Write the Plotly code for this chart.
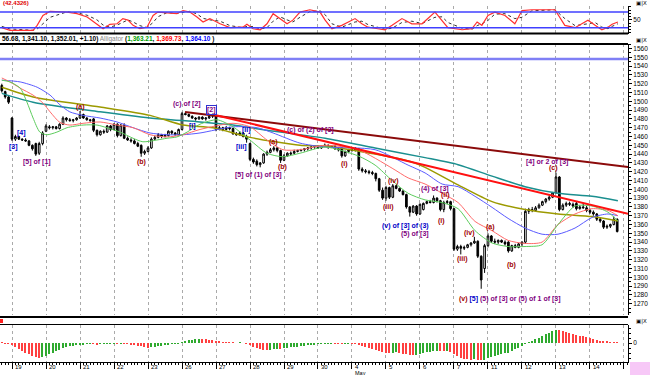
import plotly.graph_objects as go

W, H = 650, 375
PLOT_R = 628

def px(x):
    return x / W

def py(y):
    return 1 - y / H

# ---------------- data ----------------
day_labels = ["19", "20", "21", "22", "23", "26", "27", "28", "29", "30",
              "4", "5", "6", "7", "11", "12", "13", "14"]

opens = [1518,1511,1505,1481,1457,1460,1457,1456,1455,1450,
         1452,1441,1452,1466,1471,1470,1471,1469,1474,1481,
         1479,1478,1479,1481,1485,1481,1479,1480,1467,1462,
         1466,1465,1472,1468,1474,1461,1473,1458,1456,1455,
         1452,1450,1441,1443,1447,1457,1459,1462,1460,1461,
         1466,1464,1462,1468,1486,1485,1483,1481,1480,1482,
         1480,1481,1483,1484,1468,1470,1468,1470,1469,1463,
         1462,1464,1460,1452,1434,1432,1428,1430,1440,1442,
         1445,1447,1444,1433,1438,1440,1441,1443,1444,1445,
         1446,1447,1448,1449,1447,1449,1450,1448,1449,1446,
         1447,1438,1443,1445,1444,1446,1423,1421,1420,1419,
         1418,1412,1399,1390,1402,1391,1404,1401,1398,1394,
         1380,1374,1381,1372,1377,1384,1386,1385,1390,1387,
         1377,1385,1386,1378,1332,1335,1333,1334,1337,1339,
         1341,1324,1310,1336,1347,1341,1340,1342,1340,1340,
         1330,1336,1334,1338,1340,1375,1377,1376,1379,1382,
         1386,1389,1391,1396,1414,1377,1382,1384,1383,1384,
         1378,1380,1379,1376,1374,1372,1366,1364,1357,1358,
         1360,1366]
highs = [1520,1512,1506,1482,1462,1461,1458,1458,1456,1451,
         1453,1454,1466,1474,1473,1472,1472,1475,1483,1482,
         1481,1480,1482,1489,1486,1482,1480,1481,1468,1467,
         1468,1473,1473,1475,1475,1474,1475,1460,1458,1457,
         1454,1451,1445,1449,1459,1461,1464,1463,1463,1467,
         1467,1465,1469,1488,1488,1486,1484,1482,1483,1483,
         1482,1484,1486,1485,1472,1471,1472,1471,1470,1465,
         1466,1465,1462,1453,1436,1434,1431,1441,1444,1447,
         1449,1448,1445,1440,1442,1443,1445,1445,1446,1447,
         1448,1449,1450,1450,1450,1452,1451,1450,1450,1447,
         1448,1444,1446,1447,1448,1447,1425,1423,1422,1421,
         1419,1413,1402,1404,1403,1406,1405,1402,1399,1395,
         1381,1382,1382,1384,1385,1387,1388,1393,1391,1388,
         1387,1388,1387,1379,1337,1337,1336,1338,1340,1346,
         1342,1325,1338,1350,1348,1344,1343,1343,1342,1341,
         1337,1338,1339,1341,1378,1379,1380,1381,1384,1387,
         1390,1393,1397,1419,1415,1384,1386,1386,1385,1386,
         1382,1384,1381,1378,1376,1373,1368,1365,1360,1361,
         1369,1367]
lows = [1510,1503,1497,1455,1455,1456,1455,1454,1449,1444,
        1438,1439,1450,1465,1468,1468,1468,1468,1473,1477,
        1477,1476,1478,1480,1480,1478,1477,1465,1460,1461,
        1463,1464,1466,1467,1459,1460,1457,1455,1453,1451,
        1448,1437,1439,1442,1446,1456,1458,1458,1459,1460,
        1462,1461,1461,1467,1484,1482,1480,1478,1479,1479,
        1478,1480,1481,1466,1467,1466,1467,1467,1462,1461,
        1461,1459,1453,1432,1429,1426,1425,1429,1438,1441,
        1443,1442,1430,1432,1437,1439,1440,1442,1443,1443,
        1444,1445,1446,1446,1446,1448,1446,1447,1445,1443,
        1436,1437,1441,1443,1443,1421,1419,1418,1417,1416,
        1409,1397,1388,1387,1389,1390,1400,1397,1393,1378,
        1369,1373,1370,1371,1376,1383,1384,1384,1385,1375,
        1374,1383,1376,1330,1330,1326,1331,1333,1335,1338,
        1322,1287,1305,1334,1339,1338,1338,1339,1336,1328,
        1329,1333,1333,1335,1338,1372,1374,1375,1378,1381,
        1384,1387,1390,1395,1375,1376,1380,1381,1379,1376,
        1377,1378,1374,1372,1370,1364,1362,1355,1355,1356,
        1359,1351]
closes = [1512,1505,1499,1457,1460,1457,1456,1455,1450,1446,
          1440,1452,1464,1472,1470,1471,1469,1474,1481,1479,
          1478,1479,1481,1485,1481,1479,1478,1467,1462,1466,
          1465,1472,1468,1474,1461,1473,1458,1456,1455,1452,
          1449,1441,1443,1447,1457,1459,1462,1460,1462,1466,
          1464,1462,1468,1486,1485,1483,1481,1480,1482,1480,
          1481,1483,1484,1468,1470,1468,1470,1469,1463,1462,
          1464,1460,1457,1434,1431,1428,1430,1440,1442,1445,
          1447,1444,1433,1438,1441,1441,1443,1444,1445,1446,
          1447,1448,1449,1447,1449,1450,1448,1449,1446,1445,
          1438,1443,1445,1444,1446,1423,1421,1420,1419,1418,
          1412,1399,1390,1402,1391,1404,1401,1398,1394,1380,
          1374,1381,1372,1383,1384,1386,1385,1390,1387,1377,
          1385,1386,1378,1332,1335,1333,1334,1337,1339,1341,
          1324,1297,1336,1347,1341,1340,1342,1340,1338,1330,
          1336,1334,1338,1340,1375,1377,1376,1379,1382,1386,
          1389,1391,1396,1414,1377,1382,1384,1383,1381,1378,
          1380,1379,1376,1374,1372,1366,1364,1357,1358,1360,
          1366,1352]

# moving averages (bar index, price)
olive_idx = [0, 9.2, 28.9, 43.6, 53.3, 62.1, 73, 87.7, 95.1, 109.8, 120.6, 124.5, 134.2, 144.2, 153.9, 163.6, 173.6, 181.2]
olive_val = [1516, 1505, 1493.5, 1484, 1473, 1470, 1459, 1450, 1449, 1440, 1431, 1425, 1405, 1386, 1377, 1372, 1369, 1364]
teal_idx = [0, 9.2, 28.9, 43.6, 58.3, 68, 78, 95.1, 109.8, 124.5, 134.2, 144.2, 153.9, 163.6, 173.6, 181.2]
teal_val = [1509, 1499, 1488, 1481, 1476.5, 1473, 1467, 1458, 1447, 1436, 1428, 1415, 1403, 1395.5, 1392, 1387]
jaw_idx = [0, 5.4, 10.4, 14.2, 17.1, 20, 23.9, 28.9, 33.9, 38.6, 43.6, 48.6, 53.3, 58.3, 68, 75.1, 79.8, 87.7, 95.1,
           109.8, 119.5, 124.5, 129.5, 134.2, 139.2, 144.2, 148.9, 153.9, 158.9, 163.6, 168.6, 173.6, 178.3, 181.2]
jaw_val = [1524, 1522, 1516, 1507, 1496, 1488, 1484, 1481, 1476.5, 1470, 1464, 1462, 1462, 1464, 1471, 1470, 1464, 1452.5, 1448,
           1445, 1427.5, 1418.6, 1406, 1403, 1392, 1379.5, 1367, 1356, 1349, 1349, 1356, 1368, 1372, 1370]
teeth_idx = [0, 2.4, 5.4, 9.2, 12.1, 14.2, 17.1, 20, 23.9, 28.9, 33.9, 38.6, 43.6, 48.6, 53.3, 58.3, 68, 73, 78, 82.7,
             87.7, 95.1, 104.8, 114.8, 119.5, 124.5, 129.5, 134.2, 139.2, 144.2, 148.9, 153.9, 158.9, 163.6, 168.6,
             173.6, 178.3, 181.2]
teeth_val = [1526.5, 1522, 1515, 1507, 1498, 1488, 1476, 1473, 1475, 1476.5, 1473, 1470, 1462, 1459.5, 1462, 1468, 1475,
             1471, 1456, 1445, 1445, 1450, 1445, 1424, 1413, 1406, 1395.5, 1385, 1363.5, 1353, 1342, 1338.5, 1340, 1360,
             1372, 1378, 1376, 1370]
lips_idx = [0, 2.4, 5.4, 7.4, 9.2, 11.2, 13.3, 16.2, 19.2, 23.9, 28, 30.9, 34.8, 38.6, 41.5, 45.6, 48.6, 51.5, 54.5,
            58.3, 63.3, 68, 73, 78, 82.7, 87.7, 95.1, 104.8, 109.8, 114.8, 119.5, 124.5, 129.5, 134.2, 139.2, 144.2,
            148.9, 153.9, 158.9, 163.6, 168.6, 173.6, 178.3, 181.2]
lips_val = [1524, 1522, 1515, 1499, 1481, 1465, 1462, 1465, 1470, 1473, 1473, 1470, 1465, 1458, 1454, 1456, 1458, 1459.5,
            1465, 1474, 1479, 1471, 1456, 1441, 1437, 1441, 1448, 1438, 1427.5, 1410, 1395.5, 1388, 1385, 1378, 1353,
            1339, 1335, 1335, 1337, 1360, 1381, 1381, 1374, 1364]

# trend lines (bar index, price)
trend_dark_idx = [53.9, 184.2]
trend_dark_val = [1487.8, 1425.3]
trend_red_idx = [62.7, 184.2]
trend_red_val = [1484.4, 1372.3]
level_blue = 1548

# stochastic
stoch_idx = [0, 2.4, 9.2, 10.4, 12.1, 14.2, 19.2, 22.1, 25.1, 28, 29.8, 31.8, 33.9, 35.6, 37.1, 38.6, 40.6, 42.7,
             44.5, 45.9, 48.6, 51.5, 53.3, 55.3, 57.4, 59.2, 61.2, 64.2, 67.1, 70.9, 72.1, 73.9, 76, 78, 79.8, 81.8,
             83.9, 85.6, 87.7, 90.6, 93.6, 95.1, 97.1, 100, 103.9, 105.9, 107.7, 110.6, 112.7, 114.8, 117.7, 120.6,
             123.6, 127.4, 129.5, 131.2, 135.4, 138.3, 139.8, 141.2, 143, 145, 148, 150.9, 153, 155.9, 162.7, 165.6,
             168.6, 172.4, 174.5, 176.5, 178.3, 179.5, 181.2]
stoch_k = [20, 10, 10, 29, 67, 83, 80, 74, 61, 35, 16, 33, 35, 55, 49, 29, 16, 22, 67, 80, 76, 74, 86, 80, 61, 42, 55,
           35, 20, 22, 33, 16, 12, 35, 74, 55, 35, 49, 80, 89, 80, 49,
           16, 29, 55, 35, 22, 16, 12, 29, 55, 35, 35, 80, 49, 20, 12, 16, 42, 29, 67, 80, 67, 35, 86, 89, 89, 29, 20,
           49, 29, 12, 22, 33, 42]
stoch_d = [25, 15, 10, 15, 35, 60, 81, 77, 68, 50, 30, 22, 30, 42, 50, 42, 28, 20, 40, 62, 78, 75, 80, 83, 73, 56, 50,
           45, 28, 20, 25, 24, 15, 20, 45, 62, 50, 42, 60, 82, 85, 70,
           35, 22, 42, 45, 32, 20, 14, 18, 40, 45, 36, 60, 62, 40, 18, 14, 28, 35, 48, 72, 74, 55, 60, 85, 89, 55, 28,
           35, 40, 22, 16, 25, 35]
stoch_levels = [80, 20]

# oscillator histogram
ao_vals = [1.0, -0.5, -1.0, -2, -4, -6, -8, -10, -11, -13,
           -14, -14.5, -14, -12.5, -11, -9.5, -8, -6.5, -5, -4,
           -3, -2.5, -2, -1.5, -1.2, -1, -0.8, -1, -1.2, -1,
           -0.8, -0.6, -0.5, -0.4, -0.6, -0.5, -0.8, -1, -1.5, -2,
           -2.5, -3, -4, -4.5, -4, -3.5, -3, -2.5, -2, -1.5,
           -1, -0.8, -0.3, 1, 2, 3, 3.5, 4, 4.2, 4,
           3.8, 3.5, 3, 2, 1.5, 1, 0.5, 0.3, 0.2, 0,
           0.2, 0, -0.5, -2, -3.5, -5, -6, -6.5, -7, -6.5,
           -6, -5.5, -5.6, -5, -4.5, -4, -3.8, -3.5, -3, -2.5,
           -2.2, -2, -1.5, -1, -0.7, -0.5, -0.3, -0.2, -0.3, -0.4,
           -0.6, -0.5, -0.4, -0.5, -1, -2, -3, -4, -5, -6,
           -7, -8, -9, -9.5, -10, -9.5, -9.3, -10, -10.5, -11,
           -12, -12.3, -11.5, -11, -10, -9, -8.5, -8, -7.5, -8,
           -8.2, -7.8, -9, -11, -13, -14.5, -15.5, -16, -16.5, -16,
           -16.5, -17, -16.5, -15, -14, -13, -12, -11, -10, -9.5,
           -8, -6, -4.5, -3, -1, 1, 2.5, 4, 5.5, 7,
           9, 10.5, 12, 13, 12.8, 12, 11, 10, 9, 8,
           7.5, 7, 6, 5, 4, 3, 2, 1.5, 1.2, 1,
           0.9, 0.8]

PURPLE = "#800080"
DRED = "#a00000"
BLUE = "#0000c8"
wave_text = ["[3]", "[4]", "[5] of [1]", "(a)", "(b)", "(c) of [2]", "[i]", "[2]", "[ii]", "[iii]",
             "[5] of (1) of [3]", "(a)", "(b)", "(c) of (2) of [3]", "(i)", "(iv)", "(iii)",
             "(v) of [3] of (3)", "(5) of [3]", "(4) of [3]", "(ii)", "(i)", "(iv)", "(iii)", "(a)", "(b)",
             "(c)", "[4] or 2 of [3]"]
wave_idx = [3.3, 5.9, 10.4, 23, 41.2, 54.5, 56.2, 61.8, 72.1, 70.6, 75.4, 79.8, 82.7, 90.8, 100.9, 115.1, 113.7,
            118.6, 121.5, 127.4, 130.4, 129.4, 137.7, 135.4, 143.6, 150, 162.2, 160.3]
wave_price = [1448, 1464, 1431, 1494, 1431, 1497, 1472, 1490, 1467, 1448, 1416, 1454, 1425, 1467, 1429, 1409, 1380,
              1358, 1349, 1400, 1393, 1364, 1350, 1321, 1357, 1314, 1424, 1431]
wave_color = [BLUE, BLUE, PURPLE, DRED, DRED, PURPLE, BLUE, PURPLE, BLUE, BLUE, PURPLE, DRED, DRED, PURPLE, DRED,
              DRED, DRED, BLUE, PURPLE, PURPLE, DRED, DRED, DRED, DRED, DRED, DRED, DRED, PURPLE]

# ---------------- figure ----------------
FONT = "Liberation Sans"
xs = list(range(len(closes)))
fig = go.Figure()


def line(xv, yv, color, width, ya="y", xa="x", dash=None, spline=True):
    fig.add_trace(go.Scatter(
        x=xv, y=yv, mode="lines", xaxis=xa, yaxis=ya, hoverinfo="skip",
        line=dict(color=color, width=width, dash=dash,
                  shape="spline" if spline else "linear", smoothing=0.7)))


line(teal_idx, teal_val, "#1b8f8f", 1.5)
line(olive_idx, olive_val, "#9c9a00", 1.5)
line(jaw_idx, jaw_val, "#5a5aff", 1)
line(teeth_idx, teeth_val, "#ff6a6a", 1)
line(lips_idx, lips_val, "#5ccc5c", 1)

fig.add_trace(go.Candlestick(
    x=xs, open=opens, high=highs, low=lows, close=closes, xaxis="x", yaxis="y",
    increasing=dict(line=dict(color="black", width=1), fillcolor="white"),
    decreasing=dict(line=dict(color="black", width=1), fillcolor="black"),
    whiskerwidth=0, hoverinfo="skip"))

line(trend_dark_idx, trend_dark_val, "#8b0a0a", 2, spline=False)
line(trend_red_idx, trend_red_val, "#ff1010", 2, spline=False)

line(stoch_idx, stoch_d, "#333333", 1, ya="y2", xa="x2", dash="dot", spline=False)
line(stoch_idx, stoch_k, "#ff3030", 1.2, ya="y2", xa="x2", spline=False)

ao_colors = []
for i, v in enumerate(ao_vals):
    rising = i > 0 and v > ao_vals[i - 1]
    ao_colors.append("#2faa2f" if rising else "#ff4040")
fig.add_trace(go.Bar(x=xs, y=ao_vals, xaxis="x3", yaxis="y3", width=0.45,
                     marker=dict(color=ao_colors, line=dict(width=0)), hoverinfo="skip"))

xr = [-0.53, 184.18]
xcommon = dict(range=xr, showticklabels=False, tickmode="linear", tick0=3, dtick=10,
               showgrid=True, gridcolor="#aaaaaa", griddash="dot", gridwidth=1,
               zeroline=False, fixedrange=True, domain=[0, PLOT_R / W])
ycommon = dict(side="right", showgrid=False, zeroline=False, showline=True, linecolor="black",
               linewidth=1, ticks="outside", ticklen=3, tickcolor="black", ticklabeloverflow="allow",
               tickfont=dict(family=FONT, size=6.5, color="black"), fixedrange=True)

fig.update_layout(
    width=W, height=H, margin=dict(l=0, r=0, t=0, b=0), autosize=False,
    paper_bgcolor="white", plot_bgcolor="white", showlegend=False, bargap=0,
    xaxis=dict(anchor="y", ticks="", rangeslider=dict(visible=False), **xcommon),
    xaxis2=dict(anchor="y2", ticks="", matches="x", **xcommon),
    xaxis3=dict(anchor="y3", matches="x", ticks="outside", ticklen=6, tickcolor="black",
                showline=True, linecolor="black", linewidth=1,
                minor=dict(dtick=1, tick0=0, ticks="outside", ticklen=2, tickcolor="black", showgrid=False),
                **xcommon),
    yaxis=dict(anchor="x", domain=[py(315), py(44)], range=[1257.2, 1565.1],
               tickvals=list(range(1270, 1561, 10)),
               minor=dict(dtick=5, ticks="outside", ticklen=2, tickcolor="black"), **ycommon),
    yaxis2=dict(anchor="x2", domain=[py(33.5), py(6)], range=[-2.4, 103.5], tickvals=[50],
                minor=dict(dtick=12.5, tick0=0, ticks="outside", ticklen=2, tickcolor="black"), **ycommon),
    yaxis3=dict(anchor="x3", domain=[py(362), py(325)], range=[-19, 18], tickvals=[0],
                minor=dict(dtick=5, tick0=0, ticks="outside", ticklen=2, tickcolor="black"), **ycommon),
)

shapes = []
shapes.append(dict(type="line", xref="x domain", x0=0, x1=1, yref="y", y0=level_blue, y1=level_blue,
                   line=dict(color="#7f7ff5", width=2.5)))
for lv in stoch_levels:
    shapes.append(dict(type="line", xref="x2 domain", x0=0, x1=1, yref="y2", y0=lv, y1=lv,
                       line=dict(color="#4040ff", width=1.5)))
for yy, wdt in [(33.5, 2), (44, 2), (317, 2), (324.5, 1)]:
    shapes.append(dict(type="line", xref="paper", x0=0, x1=px(PLOT_R), yref="paper", y0=py(yy), y1=py(yy),
                       line=dict(color="black", width=wdt)))
shapes.append(dict(type="rect", xref="paper", x0=px(0), x1=px(3), yref="paper", y0=py(323), y1=py(319),
                   fillcolor="#ff2020", line=dict(width=0)))
shapes.append(dict(type="rect", xref="paper", x0=px(630), x1=1, yref="paper", y0=0, y1=py(362),
                   fillcolor="#f7c8f7", line=dict(width=0)))
fig.update_layout(shapes=shapes)

ann = []
for t, xi, yp, c in zip(wave_text, wave_idx, wave_price, wave_color):
    a = dict(x=xi, y=yp, xref="x", yref="y", text="<b>" + t + "</b>", showarrow=False,
             font=dict(family=FONT, size=7, color=c), xanchor="center", yanchor="middle")
    if t == "[2]":
        a.update(bordercolor="#3030d0", borderwidth=1, borderpad=0)
    ann.append(a)
ann.append(dict(x=149.5, y=1275, xref="x", yref="y", showarrow=False, xanchor="center", yanchor="middle",
                font=dict(family=FONT, size=7, color=PURPLE),
                text="<b><span style='color:%s'>(v)</span> <span style='color:%s'>[5]</span> "
                     "(5) of [3] or (5) of 1 of [3]</b>" % (DRED, BLUE)))

for k, lab in enumerate(day_labels):
    ann.append(dict(x=3 + 10 * k, y=py(366.5), xref="x3", yref="paper", text=lab, showarrow=False,
                    xanchor="left", yanchor="middle", xshift=1, font=dict(family=FONT, size=6, color="black")))
ann.append(dict(x=3 + 10 * 10, y=py(372.5), xref="x3", yref="paper", text="May", showarrow=False,
                xanchor="left", yanchor="middle", xshift=1, font=dict(family=FONT, size=5.5, color="black")))

ann.append(dict(x=px(1), y=py(3), xref="paper", yref="paper", text="<b>(42.4326)</b>", showarrow=False,
                xanchor="left", yanchor="middle", font=dict(family=FONT, size=6, color="#e00000")))
ann.append(dict(x=0, y=py(38.5), xref="paper", yref="paper", showarrow=False, xanchor="left", yanchor="middle",
                font=dict(family=FONT, size=6.5, color="black"),
                text="<b>56.68, 1,341.10, 1,352.01, +1.10)</b> <span style='color:#888888'>Alligator</span> "
                     "<b>(<span style='color:#00a000'>1,363.21</span>, <span style='color:#ff0000'>1,369.73</span>, "
                     "<span style='color:#0000ff'>1,364.10</span> )</b>"))
for yy in [3, 40, 321]:
    ann.append(dict(x=px(649), y=py(yy), xref="paper", yref="paper", text="▣|X", showarrow=False,
                    xanchor="right", yanchor="middle", font=dict(family="DejaVu Sans", size=5.5, color="black")))
fig.update_layout(annotations=ann)

fig.write_html("out.html", config={"displayModeBar": False},
               post_script="document.body.style.margin='0';document.body.style.padding='0';")
